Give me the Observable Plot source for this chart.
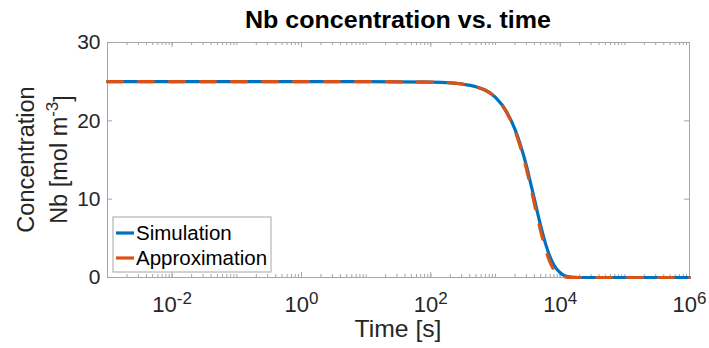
<!DOCTYPE html>
<html><head><meta charset="utf-8">
<script src="https://cdn.jsdelivr.net/npm/d3@7"></script>
<script src="https://cdn.jsdelivr.net/npm/@observablehq/plot@0.6"></script>
<style>
body{margin:0;background:#fff;font-family:"Liberation Sans",Arial,Helvetica,sans-serif}
#chart svg{display:block}
</style>
</head><body><div id="chart"></div>
<script>
// ---- data ----
const time = [1e-3, 1e-2, 1e-1, 1, 10, 100, 200, 300, 500, 700, 1000, 1500, 2000, 2500, 3000, 3500, 4000, 5000, 6000, 7000, 8000, 10000, 12000, 15000, 20000, 1e5, 1e6];
const simulation = [25, 25, 25, 25, 25, 24.95, 24.85, 24.7, 24.35, 23.9, 23.0, 21.1, 18.9, 16.6, 14.3, 12.0, 10.0, 6.6, 4.2, 2.6, 1.6, 0.6, 0.2, 0.05, 0, 0, 0];
const approximation = [25, 25, 25, 25, 25, 24.95, 24.85, 24.7, 24.35, 23.9, 23.0, 21.0, 18.7, 16.3, 13.9, 11.5, 9.4, 5.9, 3.5, 1.9, 1.0, 0.25, 0.05, 0, 0, 0, 0];
const seriesNames = ["Simulation", "Approximation"];
const seriesColors = ["#0072BD", "#D95319"];
const xDomain = [1e-3, 1e6];
const yDomain = [0, 30];
const xTickValues = [1e-2, 1, 1e2, 1e4, 1e6];
const xTickExponents = ["-2", "0", "2", "4", "6"];
const yTickValues = [0, 10, 20, 30];
const titleText = "Nb concentration vs. time";
const xLabel = "Time [s]";
const yLabelLine1 = "Concentration";
const yLabelLine2 = "Nb [mol m";
const yLabelSup = "-3";

// ---- build ----
const simData = time.map((t, i) => ({t, c: simulation[i]}));
const appData = time.map((t, i) => ({t, c: approximation[i]}));
const minorTicks = [];
for (let k = -3; k <= 5; k++) for (let m = 1; m <= 9; m++) {
  const v = m * Math.pow(10, k);
  if (v >= xDomain[0] && v <= xDomain[1]) minorTicks.push(v);
}
minorTicks.push(1e6);

const W = 709, H = 348, mL = 107, mR = 20, mT = 42, mB = 71;
const pw = W - mL - mR, ph = H - mT - mB;
const axisColor = "#262626";
const boxColor = "#a6a6a6";
const font = "'Liberation Sans', Arial, Helvetica, sans-serif";

const plot = Plot.plot({
  width: W, height: H,
  marginLeft: mL, marginRight: mR, marginTop: mT, marginBottom: mB,
  style: {fontFamily: font, background: "#fff", color: axisColor, overflow: "visible"},
  x: {type: "log", domain: xDomain},
  y: {domain: yDomain},
  marks: [
    Plot.ruleX(minorTicks, {stroke: boxColor, strokeWidth: 1, insetTop: ph - 3}),
    Plot.ruleX(minorTicks, {stroke: boxColor, strokeWidth: 1, insetBottom: ph - 3}),
    Plot.ruleX(xTickValues, {stroke: boxColor, strokeWidth: 1, insetTop: ph - 5}),
    Plot.ruleX(xTickValues, {stroke: boxColor, strokeWidth: 1, insetBottom: ph - 5}),
    Plot.ruleY(yTickValues, {stroke: boxColor, strokeWidth: 1, insetRight: pw - 5}),
    Plot.ruleY(yTickValues, {stroke: boxColor, strokeWidth: 1, insetLeft: pw - 5}),
    Plot.frame({stroke: boxColor, strokeWidth: 1}),
    Plot.axisX(xTickValues, {tickSize: 0, tickPadding: 19, fontSize: 22, fill: axisColor,
      tickFormat: (d) => "10|" + xTickExponents[xTickValues.indexOf(d)], label: null}),
    Plot.axisY(yTickValues, {tickSize: 0, tickPadding: 7, fontSize: 21, fill: axisColor, label: null}),
    Plot.line(simData, {x: "t", y: "c", stroke: seriesColors[0], strokeWidth: 3.2, curve: "monotone-x"}),
    Plot.line(appData, {x: "t", y: "c", stroke: seriesColors[1], strokeWidth: 3.2, curve: "monotone-x", strokeDasharray: "15,16"})
  ]
});

const svg = d3.select(plot);
// superscript tick labels
svg.selectAll("g[aria-label='x-axis tick label'] text").each(function() {
  const t = d3.select(this);
  const parts = t.text().split("|");
  t.text(null);
  t.append("tspan").text(parts[0]);
  t.append("tspan").attr("dy", "-0.5em").attr("font-size", 17).text(parts[1]);
});

// title
svg.append("text").attr("x", mL + pw / 2).attr("y", 28).attr("text-anchor", "middle")
  .attr("font-size", 24).attr("font-weight", "bold").attr("fill", "#000")
  .attr("textLength", 306).attr("lengthAdjust", "spacingAndGlyphs").text(titleText);
// x label
svg.append("text").attr("x", mL + pw / 2).attr("y", 337).attr("text-anchor", "middle")
  .attr("font-size", 24).attr("fill", axisColor)
  .attr("textLength", 87).attr("lengthAdjust", "spacingAndGlyphs").text(xLabel);
// y label
const yl = svg.append("g").attr("transform", `translate(0,${mT + ph / 2}) rotate(-90)`);
yl.append("text").attr("x", 0).attr("y", 34).attr("text-anchor", "middle")
  .attr("font-size", 23.5).attr("fill", axisColor).text(yLabelLine1);
const yl2 = yl.append("text").attr("x", 0).attr("y", 67).attr("text-anchor", "middle")
  .attr("font-size", 23.5).attr("fill", axisColor);
yl2.append("tspan").text(yLabelLine2);
yl2.append("tspan").attr("dy", "-0.55em").attr("font-size", 17).text(yLabelSup);
yl2.append("tspan").attr("dy", "0.55em").text("]");

// legend
const lg = svg.append("g").attr("transform", "translate(113,217)");
lg.append("rect").attr("width", 158).attr("height", 55).attr("fill", "#fff").attr("stroke", boxColor);
seriesNames.forEach((name, i) => {
  const y = 16 + i * 25;
  lg.append("line").attr("x1", 3).attr("x2", 21).attr("y1", y).attr("y2", y)
    .attr("stroke", seriesColors[i]).attr("stroke-width", 3.2);
  lg.append("text").attr("x", 23).attr("y", y + 7).attr("text-anchor", "start")
    .attr("font-size", 20.5).attr("fill", "#000").text(name);
});

document.getElementById("chart").appendChild(plot);
</script>
</body></html>
